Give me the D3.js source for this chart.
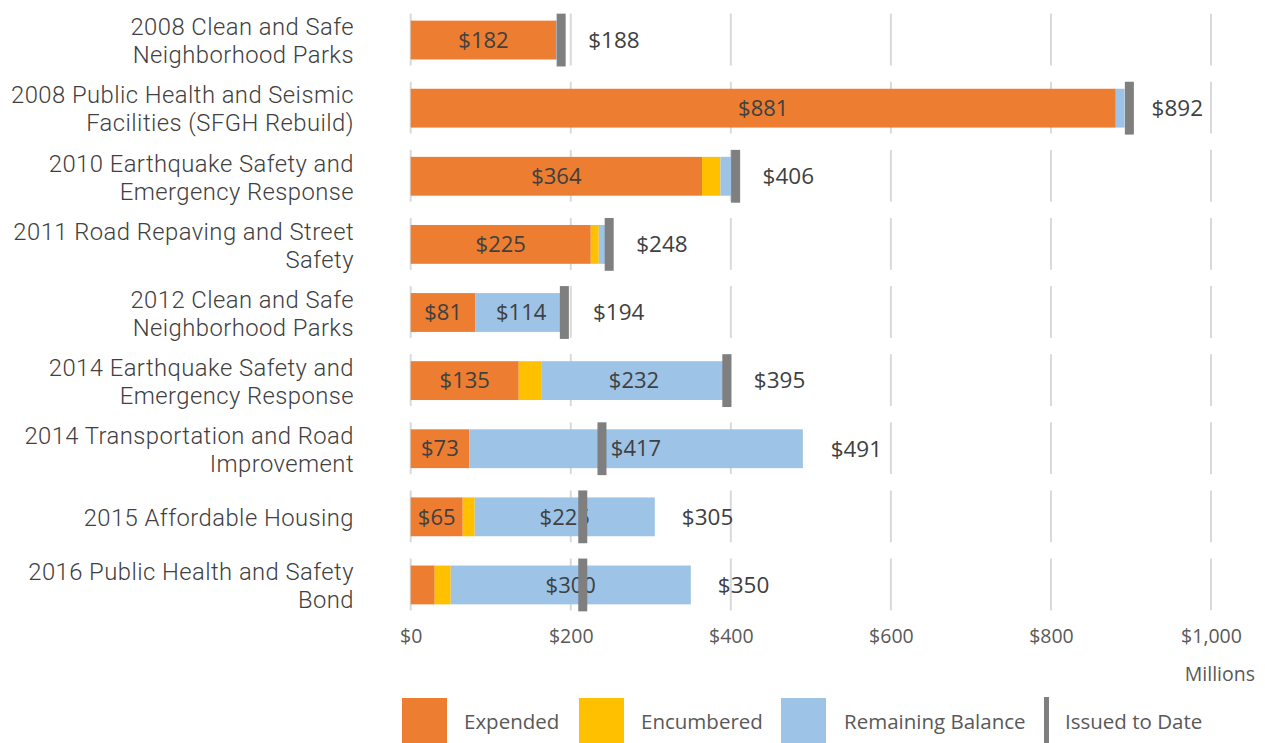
<!DOCTYPE html>
<html>
<head>
<meta charset="utf-8">
<script src="https://cdn.jsdelivr.net/npm/d3@7"></script>
<style>
  html, body { margin: 0; padding: 0; background: #ffffff; }
  svg { display: block; }
</style>
</head>
<body>
<svg id="chart" width="1265" height="743"></svg>
<script>
// ---- data (millions of dollars) ----
const categories = [
  ["2008 Clean and Safe", "Neighborhood Parks"],
  ["2008 Public Health and Seismic", "Facilities (SFGH Rebuild)"],
  ["2010 Earthquake Safety and", "Emergency Response"],
  ["2011 Road Repaving and Street", "Safety"],
  ["2012 Clean and Safe", "Neighborhood Parks"],
  ["2014 Earthquake Safety and", "Emergency Response"],
  ["2014 Transportation and Road", "Improvement"],
  ["2015 Affordable Housing"],
  ["2016 Public Health and Safety", "Bond"]
];
const expended   = [182, 881, 364, 225, 81, 135, 73, 65, 30];
const encumbered = [0, 0, 23, 10, 0, 28, 0, 15, 20];
const remaining  = [6, 11, 19, 13, 114, 232, 417, 225, 300];
const issuedToDate = [188, 898, 406, 248, 192, 395, 239, 215, 215];
const totals     = [188, 892, 406, 248, 194, 395, 491, 305, 350];
const xTicks     = [0, 200, 400, 600, 800, 1000];
const seriesNames = ["Expended", "Encumbered", "Remaining Balance"];
const seriesColors = ["#ED7D31", "#FFC000", "#9DC3E6"];
const issuedName = "Issued to Date";
const issuedColor = "#7F7F7F";

// ---- setup ----
const svg = d3.select("#chart");
const font = "'Open Sans', 'Noto Sans', sans-serif";
const catFont = "Roboto, 'Open Sans', sans-serif";
const ids = categories.map((c, i) => i);

const x = d3.scaleLinear().domain([0, 1000]).range([410.7, 1211]);
const y = d3.scaleBand().domain(ids).range([6, 619]).paddingInner(0.43).paddingOuter(0.215);

const stackData = ids.map(i => ({ i, s0: expended[i], s1: encumbered[i], s2: remaining[i] }));
const stack = d3.stack().keys(["s0", "s1", "s2"]);
const layers = stack(stackData);

// ---- gridlines (segmented per row) ----
const grid = svg.append("g");
xTicks.forEach(t => {
  ids.forEach(i => {
    grid.append("line")
      .attr("x1", x(t)).attr("x2", x(t))
      .attr("y1", y(i) - 7).attr("y2", y(i) + y.bandwidth() + 6)
      .attr("stroke", "#D9D9D9").attr("stroke-width", 2);
  });
});

// ---- stacked bars ----
const barG = svg.append("g");
layers.forEach((layer, k) => {
  barG.selectAll(null).data(layer).enter().append("rect")
    .attr("x", d => x(d[0]))
    .attr("y", d => y(d.data.i))
    .attr("width", d => Math.max(0, x(d[1]) - x(d[0])))
    .attr("height", y.bandwidth())
    .attr("fill", seriesColors[k]);
});

// ---- segment labels ----
layers.forEach((layer, k) => {
  barG.selectAll(null).data(layer.filter(d => (d[1] - d[0]) >= 50)).enter().append("text")
    .attr("x", d => (x(d[0]) + x(d[1])) / 2)
    .attr("y", d => y(d.data.i) + y.bandwidth() / 2)
    .attr("dy", "0.35em")
    .attr("text-anchor", "middle")
    .attr("font-family", font)
    .attr("font-size", 22)
    .attr("fill", "#404040")
    .text(d => "$" + d3.format(",")(d[1] - d[0]));
});

// ---- issued to date markers ----
svg.append("g").selectAll("rect").data(ids).enter().append("rect")
  .attr("x", i => x(issuedToDate[i]) - 4.5)
  .attr("y", i => y(i) - 7)
  .attr("width", 9)
  .attr("height", y.bandwidth() + 14)
  .attr("fill", issuedColor);

// ---- total labels ----
svg.append("g").selectAll("text").data(ids).enter().append("text")
  .attr("x", i => x(totals[i]) + 27)
  .attr("y", i => y(i) + y.bandwidth() / 2)
  .attr("dy", "0.35em")
  .attr("font-family", font)
  .attr("font-size", 22.5)
  .attr("fill", "#404040")
  .text(i => "$" + d3.format(",")(totals[i]));

// ---- category labels ----
const catG = svg.append("g");
ids.forEach(i => {
  const lines = categories[i];
  const cy = y(i) + y.bandwidth() / 2 + 1;
  const lh = 28;
  const t = catG.append("text")
    .attr("text-anchor", "end")
    .attr("font-family", catFont)
    .attr("font-size", 23.8)
    .attr("font-weight", 300)
    .attr("letter-spacing", 0.45)
    .attr("fill", "#404040");
  lines.forEach((ln, j) => {
    t.append("tspan")
      .attr("x", 354)
      .attr("y", cy + (j - (lines.length - 1) / 2) * lh)
      .attr("dy", "0.35em")
      .text(ln);
  });
});

// ---- x axis ----
const xAxis = d3.axisBottom(x).tickValues(xTicks)
  .tickFormat(d => "$" + d3.format(",")(d)).tickSize(0).tickPadding(0);
const ax = svg.append("g").attr("transform", "translate(0,636)").call(xAxis);
ax.select(".domain").remove();
ax.selectAll("text")
  .attr("dy", "0.35em")
  .attr("font-family", font)
  .attr("font-size", 19.5)
  .attr("fill", "#595959");

svg.append("text")
  .attr("x", 1255).attr("y", 674).attr("dy", "0.35em")
  .attr("text-anchor", "end")
  .attr("font-family", font).attr("font-size", 19.5)
  .attr("fill", "#595959")
  .text("Millions");

// ---- legend ----
const legendX = [402, 579, 781];
const legendTextX = [464, 641, 844];
const lg = svg.append("g");
seriesNames.forEach((n, k) => {
  lg.append("rect").attr("x", legendX[k]).attr("y", 698).attr("width", 45).attr("height", 45)
    .attr("fill", seriesColors[k]);
  lg.append("text").attr("x", legendTextX[k]).attr("y", 722).attr("dy", "0.35em")
    .attr("font-family", font).attr("font-size", 20.5).attr("fill", "#595959").text(n);
});
lg.append("rect").attr("x", 1044).attr("y", 697).attr("width", 5).attr("height", 46).attr("fill", issuedColor);
lg.append("text").attr("x", 1065).attr("y", 722).attr("dy", "0.35em")
  .attr("font-family", font).attr("font-size", 20.5).attr("fill", "#595959").text(issuedName);
</script>
</body>
</html>
